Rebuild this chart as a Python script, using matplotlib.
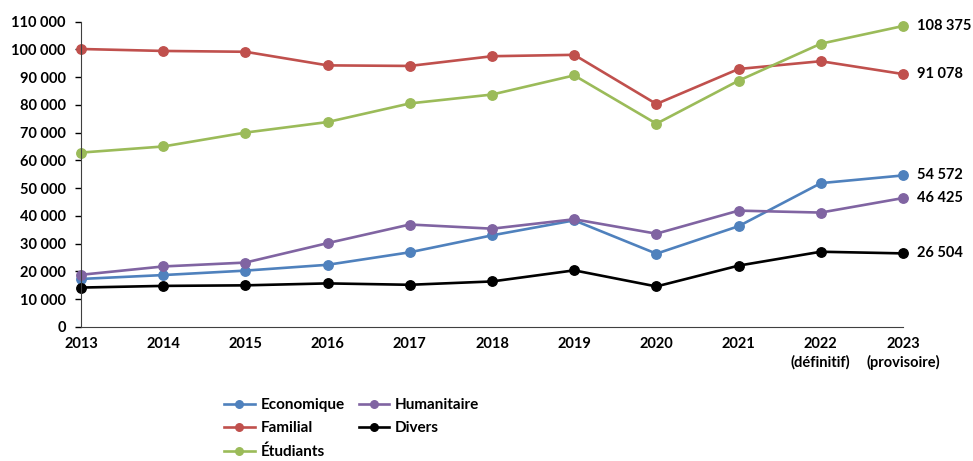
import matplotlib
matplotlib.use("Agg")
import matplotlib.pyplot as plt
from matplotlib.ticker import FuncFormatter

years = list(range(2013, 2024))
year_labels = ["2013", "2014", "2015", "2016", "2017", "2018", "2019", "2020", "2021",
               "2022\n(définitif)", "2023\n(provisoire)"]

economique = [17300, 18700, 20300, 22400, 26900, 33000, 38400, 26400, 36300, 51800, 54572]
familial = [100100, 99400, 99100, 94200, 94000, 97500, 98000, 80300, 92900, 95700, 91078]
etudiants = [62800, 65000, 70000, 73800, 80500, 83700, 90600, 73200, 88700, 102000, 108375]
humanitaire = [18800, 21800, 23200, 30200, 36900, 35400, 38800, 33600, 41900, 41200, 46425]
divers = [14200, 14800, 15000, 15700, 15200, 16400, 20400, 14600, 22100, 27100, 26504]

series = [
    ("Economique", economique, "#4F81BD"),
    ("Familial", familial, "#C0504D"),
    ("Étudiants", etudiants, "#9BBB59"),
    ("Humanitaire", humanitaire, "#8064A2"),
    ("Divers", divers, "#000000"),
]

plt.rcParams['font.family'] = ['Lato', 'DejaVu Sans']
plt.rcParams['font.weight'] = 'bold'

fig = plt.figure(figsize=(9.73, 4.61), dpi=100)
ax = fig.add_axes([81 / 973, 1 - 327 / 461, (903 - 81) / 973, (327 - 21.5) / 461])

for name, vals, col in series:
    ax.plot(years, vals, color=col, lw=1.9, marker="o", ms=6.8, label=name, clip_on=False)
    last = vals[-1]
    ax.annotate(f"{last:,}".replace(",", " "), (years[-1], last), xytext=(10, 0),
                textcoords="offset points", va="center", ha="left",
                fontsize=10.5, fontweight="bold")

ax.set_xlim(2013, 2023)
ax.set_ylim(0, 110000)
ax.set_yticks(range(0, 110001, 10000))
ax.yaxis.set_major_formatter(FuncFormatter(lambda v, p: f"{int(v):,}".replace(",", " ")))
ax.set_xticks(years)
ax.set_xticklabels(year_labels, va="top", linespacing=1.35)
ax.tick_params(axis="y", length=4, width=1, labelsize=10.5, pad=7)
ax.tick_params(axis="x", length=0, labelsize=10.5, pad=7)
for lbl in ax.get_xticklabels() + ax.get_yticklabels():
    lbl.set_fontweight("bold")
ax.spines["top"].set_visible(False)
ax.spines["right"].set_visible(False)
ax.spines["left"].set_color("#404040")
ax.spines["bottom"].set_color("#404040")

leg = fig.legend(loc="upper left", bbox_to_anchor=(224 / 973, 1 - 398 / 461), ncol=2,
                 frameon=False, fontsize=11, handlelength=2.0, columnspacing=0.9,
                 labelspacing=0.62, handletextpad=0.4, markerscale=0.8,
                 borderpad=0, borderaxespad=0)
for t in leg.get_texts():
    t.set_fontweight("bold")

fig.savefig("out.png", dpi=100)
